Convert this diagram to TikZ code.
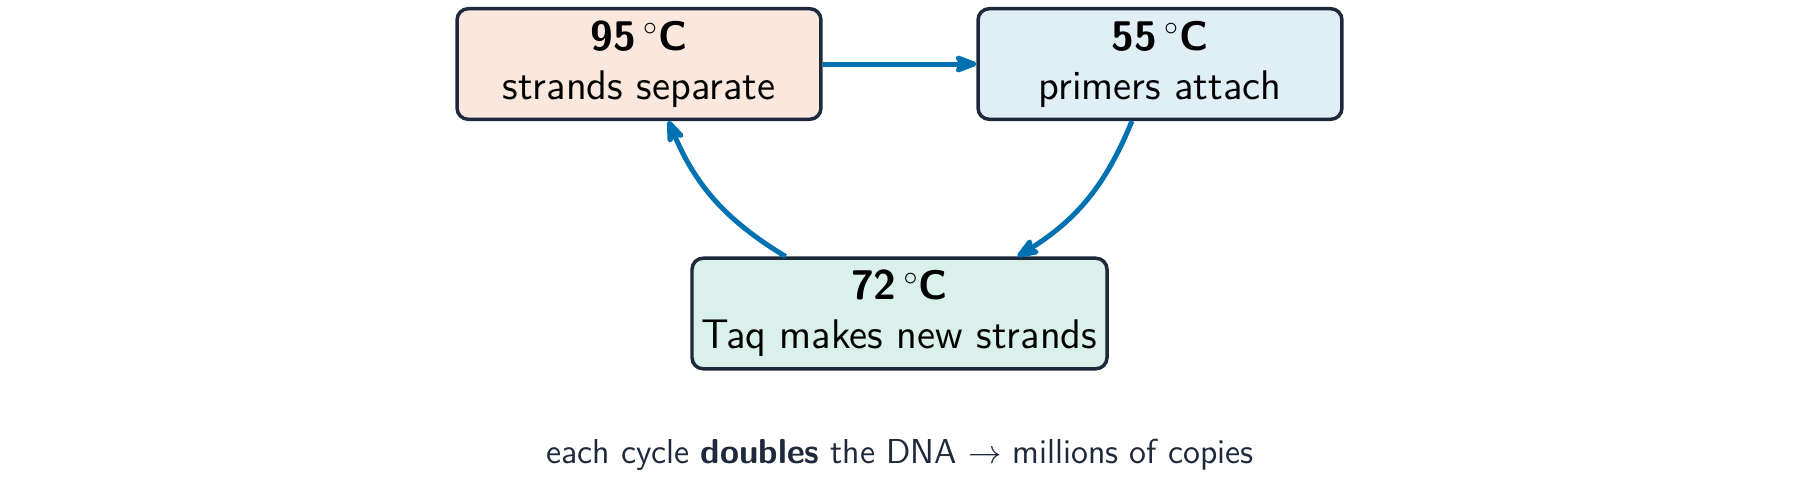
\documentclass[tikz,border=0pt]{standalone}
\usetikzlibrary{arrows.meta}
\definecolor{fillA}{RGB}{250,232,222}
\definecolor{fillB}{RGB}{224,238,246}
\definecolor{fillC}{RGB}{218,240,234}
\definecolor{edgec}{RGB}{30,41,59}
\definecolor{arrowc}{RGB}{0,114,178}
\tikzset{
  stagebox/.style={draw=edgec, line width=1.25pt, rounded corners=4pt, inner sep=0pt,
    minimum height=39.8pt, align=center, text=black,
    font=\sffamily\fontsize{14.9}{17.6}\selectfont},
  flow/.style={draw=arrowc, line width=1.8pt, -{Stealth[round]}},
  note/.style={text=edgec, font=\sffamily\fontsize{12.45}{14}\selectfont, inner sep=0pt}
}
\begin{document}
\begin{tikzpicture}[x=0.36pt, y=0.36pt]
\useasboundingbox (0,0) rectangle (1800,-491);
\node[stagebox, fill=fillA, minimum width=131pt] (hot) at (639,-64) {\textbf{95\,$^\circ$C}\\strands separate};
\node[stagebox, fill=fillB, minimum width=131pt] (warm) at (1160,-64) {\textbf{55\,$^\circ$C}\\primers attach};
\node[stagebox, fill=fillC, minimum width=149.4pt] (mid) at (899.5,-313.5) {\textbf{72\,$^\circ$C}\\Taq makes new strands};
\node[note, anchor=base] (foot) at (900,-463) {each cycle \textbf{doubles} the DNA $\rightarrow$ millions of copies};
\draw[flow] (hot.east) -- (warm.west);
\draw[flow] ([xshift=-10.1pt]warm.south) to[bend left=18] ([xshift=42.5pt]mid.north);
\draw[flow] ([xshift=-41pt]mid.north) to[bend left=18] ([xshift=10.6pt]hot.south);
\end{tikzpicture}
\end{document}
